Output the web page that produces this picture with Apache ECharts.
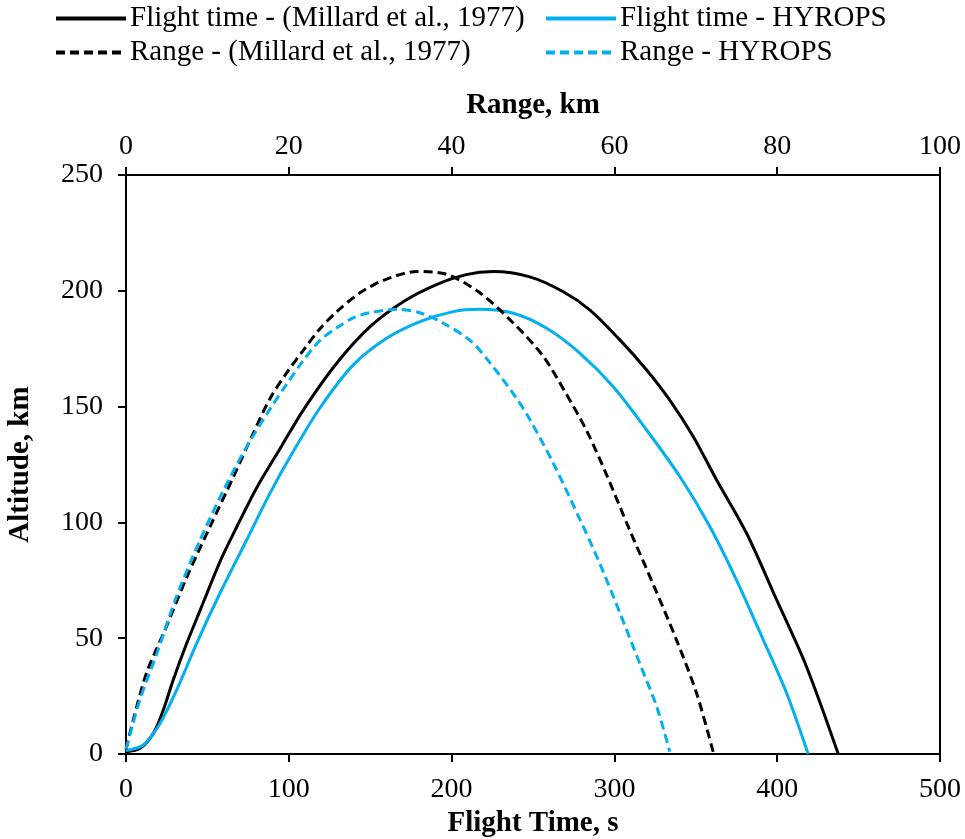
<!DOCTYPE html>
<html>
<head>
<meta charset="utf-8">
<script src="https://cdn.jsdelivr.net/npm/echarts@6/dist/echarts.min.js"></script>
<style>
html,body{margin:0;padding:0;background:#fff;}
#chart{width:965px;height:839px;}
</style>
</head>
<body>
<div id="chart"></div>
<script>
// Series names
var seriesNames = [
  'Flight time - (Millard et al., 1977)',
  'Flight time - HYROPS',
  'Range - (Millard et al., 1977)',
  'Range - HYROPS'
];
// Flight time (s) vs altitude (km) - Millard et al., 1977
var timeMillard = [[0,1],[8.6,2.5],[16.8,8.9],[22.9,19],[29,32],[37.3,47.8],[45.5,62],[57.7,83],[68,98],[80.3,115],[95.6,133],[108.9,148.5],[129.4,168.7],[149.9,184.5],[170.3,195.3],[190,202.5],[209,207],[225.6,208.3],[248,206],[268.6,199.6],[285,191.7],[303.4,178.8],[319.8,165.8],[334,152.8],[348.5,137],[362.8,118.3],[381.2,95.3],[399.7,66.5],[418,37.7],[437.5,0]];
// Flight time (s) vs altitude (km) - HYROPS
var timeHyrops = [[0,1.5],[10.6,3.9],[20.9,13.2],[31.1,27.6],[43.4,47.8],[57.7,69.4],[74.1,92.4],[88,112],[101.8,129.5],[119.2,149.5],[139.6,168],[160.1,179.5],[180.6,186.7],[201,191],[217,192],[238,190.3],[258.4,183.8],[278.9,173],[299.3,158.6],[319.8,139.9],[340.3,119.7],[358.7,98.1],[375,75.1],[391.5,49.2],[405.8,26.2],[419,0]];
// Range (km) vs altitude (km) - Millard et al., 1977
var rangeMillard = [[0,2],[0.9,14.7],[2.5,34.8],[4.6,52],[7.5,76.6],[10.3,98],[13.2,119.7],[15.5,137.5],[17.7,153.5],[19.7,164.4],[21.8,174.4],[23.8,183.5],[25.9,191],[28.7,199],[31.6,204.5],[35.7,208.3],[39,207.5],[43.3,199.6],[47.6,186],[51.2,172],[54,156],[56.6,139.5],[58.8,122.5],[61.9,96.5],[64.8,73],[67.6,49.5],[70.1,26.2],[72.2,0]];
// Range (km) vs altitude (km) - HYROPS
var rangeHyrops = [[0,2],[1.7,23.3],[3.8,43.5],[6.2,67.9],[9.1,92.4],[12,114],[14.8,132.5],[17.7,149],[19.7,159.5],[21.8,170],[23.8,178.5],[25.9,184],[27.9,188.3],[30,190.6],[33.3,192],[36.1,190.5],[39,186],[42.3,178.5],[44.7,169],[48,153.5],[49.6,144.5],[52.5,125.5],[55.8,101],[58.2,82.3],[60.7,60.7],[63.1,39.2],[65.2,20.4],[66.8,1]];

var BLUE = '#00B0F0';
var FONT = 'Liberation Serif';

var chart = echarts.init(document.getElementById('chart'));

function legendAt(name, left, top) {
  return {
    data: [name], left: left, top: top, padding: 0,
    itemWidth: 70, itemHeight: 14, itemGap: 0,
    itemStyle: {opacity: 0},
    lineStyle: {width: 4},
    textStyle: {fontFamily: FONT, fontSize: 29, color: '#000', padding: [0,0,0,-1]}
  };
}
function axisCommon(margin) {
  return {
    axisLine: {show: true, lineStyle: {color: '#000', width: 2}},
    axisTick: {show: true, inside: false, length: 8, lineStyle: {color: '#000', width: 2}},
    splitLine: {show: false},
    axisLabel: {fontFamily: FONT, fontSize: 28, color: '#000', margin: margin},
    nameTextStyle: {fontFamily: FONT, fontSize: 29, fontWeight: 'bold', color: '#000'},
    nameLocation: 'middle'
  };
}

var option = {
  animation: false,
  backgroundColor: '#fff',
  legend: [
    legendAt(seriesNames[0], 54, 4),
    legendAt(seriesNames[1], 544, 4),
    legendAt(seriesNames[2], 54, 38),
    legendAt(seriesNames[3], 544, 38)
  ],
  grid: {left: 126, right: 25, top: 175, bottom: 85, show: true, borderColor: '#000', borderWidth: 2,
    containLabel: false, outerBoundsMode: 'none'},
  xAxis: [
    Object.assign(axisCommon(22), {type: 'value', position: 'bottom', min: 0, max: 500, interval: 100,
      name: 'Flight Time, s', nameGap: 50}),
    Object.assign(axisCommon(14), {type: 'value', position: 'top', min: 0, max: 100, interval: 20,
      name: 'Range, km', nameGap: 55})
  ],
  yAxis: [
    Object.assign(axisCommon(23), {type: 'value', min: 0, max: 250, interval: 50,
      name: 'Altitude, km', nameGap: 91})
  ],
  series: [
    {name: seriesNames[0], type: 'line', xAxisIndex: 0, data: timeMillard, showSymbol: false, symbol: 'none', smooth: 0.3,
      lineStyle: {color: '#000', width: 3}, itemStyle: {color: '#000'}},
    {name: seriesNames[1], type: 'line', xAxisIndex: 0, data: timeHyrops, showSymbol: false, symbol: 'none', smooth: 0.3,
      lineStyle: {color: BLUE, width: 3}, itemStyle: {color: BLUE}},
    {name: seriesNames[2], type: 'line', xAxisIndex: 1, data: rangeMillard, showSymbol: false, symbol: 'none', smooth: 0.3,
      lineStyle: {color: '#000', width: 3, type: [9,5]}, itemStyle: {color: '#000'}},
    {name: seriesNames[3], type: 'line', xAxisIndex: 1, data: rangeHyrops, showSymbol: false, symbol: 'none', smooth: 0.3,
      lineStyle: {color: BLUE, width: 3, type: [9,5]}, itemStyle: {color: BLUE}}
  ]
};
chart.setOption(option);
</script>
</body>
</html>
